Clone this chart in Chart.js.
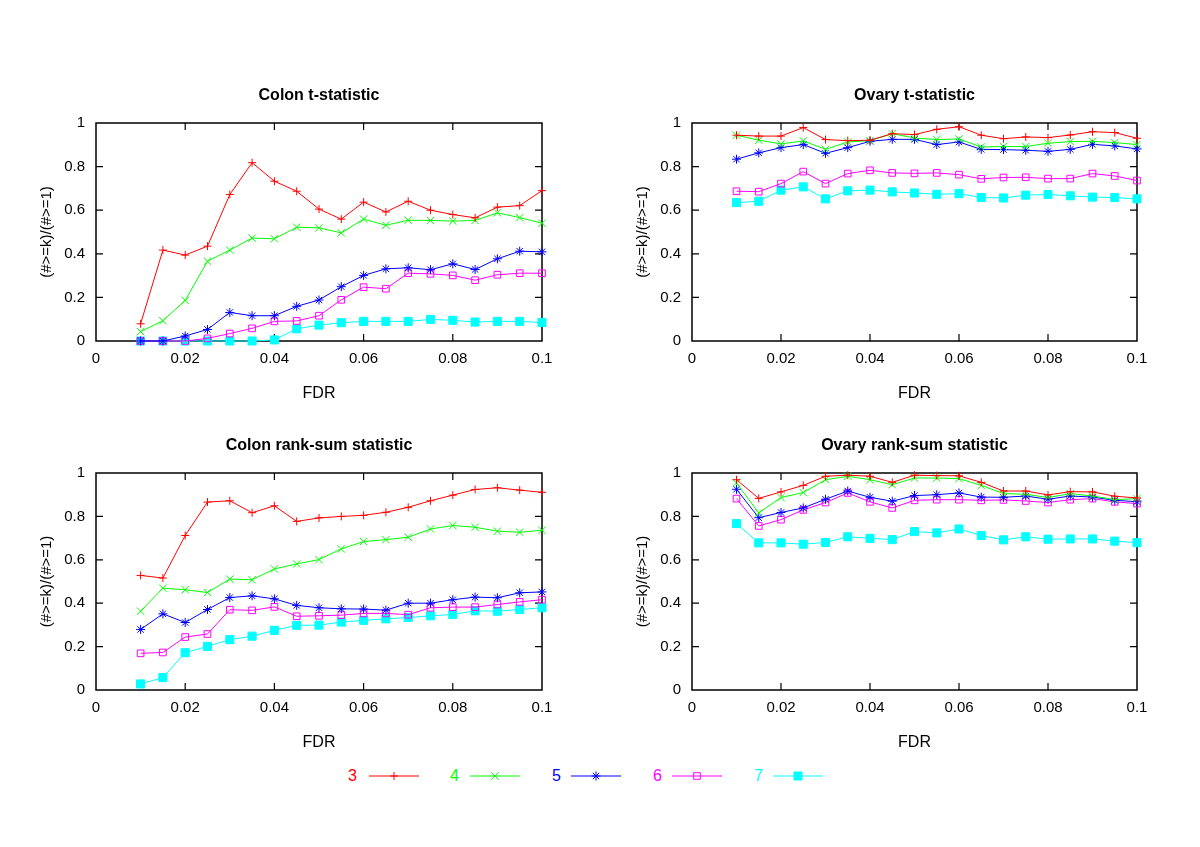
<!DOCTYPE html>
<html><head><meta charset="utf-8">
<script src="https://cdn.jsdelivr.net/npm/chart.js@4.4.1/dist/chart.umd.min.js"></script>
<style>
html,body{margin:0;padding:0;background:#fff;}
body{width:1200px;height:847px;position:relative;overflow:hidden;font-family:"Liberation Sans",Arial,Helvetica,sans-serif;}
canvas.pc{position:absolute;}
.lt{position:absolute;font-size:16px;line-height:16px;}
.ls{position:absolute;}
</style></head><body>
<canvas id="c1" class="pc" style="left:0px;top:60px" width="582" height="351"></canvas>
<canvas id="c2" class="pc" style="left:596px;top:60px" width="581" height="351"></canvas>
<canvas id="c3" class="pc" style="left:0px;top:410px" width="582" height="350"></canvas>
<canvas id="c4" class="pc" style="left:596px;top:410px" width="581" height="350"></canvas>
<div id="legend"></div>
<script>
// ---------- DATA ----------
const fdr = [0.01,0.015,0.02,0.025,0.03,0.035,0.04,0.045,0.05,0.055,0.06,0.065,0.07,0.075,0.08,0.085,0.09,0.095,0.1];
const seriesNames = ['3','4','5','6','7'];
const xTickLabels = ['0','0.02','0.04','0.06','0.08','0.1'];
const yTickLabels = ['0','0.2','0.4','0.6','0.8','1'];
const panelTitles = ['Colon t-statistic','Ovary t-statistic','Colon rank-sum statistic','Ovary rank-sum statistic'];

const colonT_3 = [0.079,0.417,0.394,0.435,0.672,0.818,0.733,0.687,0.605,0.559,0.637,0.592,0.641,0.600,0.580,0.565,0.614,0.621,0.690];
const colonT_4 = [0.043,0.093,0.186,0.366,0.417,0.472,0.469,0.522,0.519,0.496,0.559,0.531,0.554,0.553,0.550,0.553,0.588,0.566,0.540];
const colonT_5 = [0,0,0.023,0.053,0.131,0.116,0.116,0.159,0.188,0.249,0.301,0.331,0.336,0.327,0.354,0.328,0.377,0.412,0.409];
const colonT_6 = [0,0,0,0.012,0.034,0.058,0.090,0.092,0.116,0.189,0.247,0.240,0.311,0.308,0.301,0.279,0.304,0.311,0.311];
const colonT_7 = [0,0,0,0,0,0,0.005,0.056,0.073,0.084,0.090,0.090,0.090,0.099,0.095,0.087,0.090,0.090,0.085];

const ovaryT_3 = [0.944,0.940,0.940,0.979,0.924,0.919,0.921,0.951,0.947,0.971,0.983,0.944,0.928,0.936,0.933,0.945,0.960,0.956,0.930];
const ovaryT_4 = [0.944,0.921,0.904,0.918,0.879,0.913,0.919,0.951,0.931,0.924,0.927,0.890,0.892,0.892,0.907,0.915,0.916,0.910,0.901];
const ovaryT_5 = [0.834,0.863,0.887,0.901,0.861,0.887,0.916,0.925,0.925,0.901,0.913,0.879,0.878,0.875,0.870,0.879,0.902,0.895,0.881];
const ovaryT_6 = [0.687,0.685,0.722,0.777,0.722,0.768,0.783,0.771,0.769,0.771,0.763,0.744,0.750,0.751,0.745,0.745,0.768,0.757,0.736];
const ovaryT_7 = [0.635,0.641,0.692,0.707,0.652,0.689,0.692,0.684,0.679,0.673,0.676,0.658,0.656,0.669,0.672,0.666,0.660,0.658,0.652];

const colonR_3 = [0.528,0.516,0.712,0.866,0.872,0.817,0.849,0.777,0.793,0.800,0.805,0.819,0.842,0.872,0.898,0.924,0.932,0.921,0.911];
const colonR_4 = [0.363,0.469,0.462,0.449,0.511,0.508,0.558,0.581,0.601,0.650,0.684,0.693,0.704,0.742,0.758,0.750,0.732,0.727,0.736];
const colonR_5 = [0.279,0.351,0.311,0.371,0.426,0.434,0.420,0.390,0.379,0.374,0.373,0.368,0.400,0.400,0.416,0.428,0.425,0.448,0.452];
const colonR_6 = [0.169,0.173,0.244,0.258,0.370,0.367,0.383,0.340,0.342,0.345,0.353,0.353,0.347,0.379,0.382,0.382,0.394,0.406,0.416];
const colonR_7 = [0.028,0.057,0.172,0.201,0.232,0.248,0.275,0.298,0.299,0.313,0.321,0.328,0.334,0.342,0.348,0.365,0.363,0.371,0.379];

const ovaryR_3 = [0.969,0.883,0.913,0.943,0.985,0.990,0.985,0.957,0.990,0.988,0.987,0.957,0.917,0.917,0.899,0.914,0.913,0.893,0.885];
const ovaryR_4 = [0.954,0.816,0.887,0.910,0.969,0.985,0.969,0.946,0.977,0.977,0.974,0.943,0.905,0.902,0.887,0.905,0.894,0.877,0.882];
const ovaryR_5 = [0.925,0.794,0.818,0.839,0.879,0.917,0.888,0.870,0.896,0.900,0.908,0.889,0.888,0.894,0.879,0.894,0.889,0.874,0.868];
const ovaryR_6 = [0.882,0.756,0.785,0.830,0.864,0.908,0.867,0.839,0.874,0.877,0.877,0.874,0.876,0.871,0.864,0.877,0.882,0.867,0.859];
const ovaryR_7 = [0.767,0.678,0.678,0.672,0.680,0.706,0.699,0.693,0.730,0.724,0.742,0.712,0.692,0.706,0.695,0.696,0.696,0.686,0.679];

// ---------- STYLES ----------
const seriesColors = ['#ff0000','#00ff00','#0000ff','#ff00ff','#00ffff'];
const seriesPoint = ['cross','crossRot','star','rect','rect'];
const seriesRadius = [4,5.2,4.5,4.7,5.7];
const seriesFill = ['#ff0000','#00ff00','#0000ff','rgba(0,0,0,0)','#00ffff'];

Chart.defaults.font.family = '"Liberation Sans", Arial, Helvetica, sans-serif';
Chart.defaults.color = '#000';

const gnuFrame = {
  id: 'gnuFrame',
  beforeDatasetsDraw(chart) {
    const {ctx, chartArea: a} = chart;
    const xs = chart.scales.x, ys = chart.scales.y;
    ctx.save();
    ctx.strokeStyle = '#000';
    ctx.lineWidth = 1.5;
    ctx.strokeRect(a.left, a.top, a.right - a.left, a.bottom - a.top);
    ctx.lineWidth = 1.2;
    ctx.beginPath();
    const L = 7;
    xs.ticks.forEach(t => {
      const px = xs.getPixelForValue(t.value);
      if (px <= a.left + 1 || px >= a.right - 1) return;
      ctx.moveTo(px, a.bottom); ctx.lineTo(px, a.bottom - L);
      ctx.moveTo(px, a.top); ctx.lineTo(px, a.top + L);
    });
    ys.ticks.forEach(t => {
      const py = ys.getPixelForValue(t.value);
      if (py >= a.bottom - 1 || py <= a.top + 1) return;
      ctx.moveTo(a.left, py); ctx.lineTo(a.left + L, py);
      ctx.moveTo(a.right, py); ctx.lineTo(a.right - L, py);
    });
    ctx.stroke();
    ctx.restore();
  }
};

function makePanel(id, title, seriesList) {
  const datasets = seriesList.map((vals, k) => ({
    label: seriesNames[k],
    data: fdr.map((f, i) => ({x: f, y: vals[i]})),
    borderColor: seriesColors[k],
    backgroundColor: seriesFill[k],
    borderWidth: 1,
    pointStyle: seriesPoint[k],
    pointRadius: seriesRadius[k],
    pointBorderColor: seriesColors[k],
    pointBackgroundColor: seriesFill[k],
    pointBorderWidth: 1,
    tension: 0,
    clip: false
  }));
  return new Chart(document.getElementById(id), {
    type: 'line',
    data: {datasets},
    plugins: [gnuFrame],
    options: {
      responsive: false,
      animation: false,
      events: [],
      layout: {padding: {left: 0, right: 40, top: 0, bottom: 0}},
      plugins: {
        legend: {display: false},
        tooltip: {enabled: false},
        title: {display: true, text: title, fullSize: false, font: {size: 16, weight: 'bold'},
                padding: {top: 26, bottom: 17.8}, color: '#000'}
      },
      scales: {
        x: {
          type: 'linear', min: 0, max: 0.1,
          ticks: {stepSize: 0.02, padding: 9, font: {size: 15}, color: '#000', maxRotation: 0, autoSkip: false,
                  callback: (v, i) => xTickLabels[i]},
          grid: {display: false, drawTicks: false},
          border: {display: false},
          title: {display: true, text: 'FDR', font: {size: 16}, color: '#000', padding: {top: 0, bottom: 7.4}},
          afterFit(s) { s.height = 70; }
        },
        y: {
          type: 'linear', min: 0, max: 1,
          ticks: {stepSize: 0.2, padding: 11, font: {size: 15}, color: '#000',
                  callback: (v, i) => yTickLabels[i]},
          grid: {display: false, drawTicks: false},
          border: {display: false},
          title: {display: true, text: '(#>=k)/(#>=1)', font: {size: 15}, color: '#000', padding: {top: 38, bottom: 0}},
          afterFit(s) { s.width = 96; }
        }
      }
    }
  });
}

makePanel('c1', panelTitles[0], [colonT_3, colonT_4, colonT_5, colonT_6, colonT_7]);
makePanel('c2', panelTitles[1], [ovaryT_3, ovaryT_4, ovaryT_5, ovaryT_6, ovaryT_7]);
makePanel('c3', panelTitles[2], [colonR_3, colonR_4, colonR_5, colonR_6, colonR_7]);
makePanel('c4', panelTitles[3], [ovaryR_3, ovaryR_4, ovaryR_5, ovaryR_6, ovaryR_7]);

// ---------- LEGEND ----------
(function () {
  const lg = document.getElementById('legend');
  const textLeft = [348, 450, 552, 653, 754];
  const lineLeft = [369, 470, 571, 672, 773];
  const cy = 776;
  seriesNames.forEach((name, k) => {
    const s = document.createElement('span');
    s.className = 'lt';
    s.textContent = name;
    s.style.left = textLeft[k] + 'px';
    s.style.top = (cy - 8) + 'px';
    s.style.color = seriesColors[k];
    lg.appendChild(s);
    const c = document.createElement('canvas');
    c.className = 'ls';
    c.width = 52; c.height = 16;
    c.style.left = (lineLeft[k] - 1) + 'px';
    c.style.top = (cy - 8) + 'px';
    lg.appendChild(c);
    const ctx = c.getContext('2d');
    ctx.strokeStyle = seriesColors[k];
    ctx.lineWidth = 1;
    ctx.beginPath(); ctx.moveTo(1, 8); ctx.lineTo(51, 8); ctx.stroke();
    ctx.fillStyle = seriesFill[k];
    const opts = {pointStyle: seriesPoint[k], radius: seriesRadius[k], borderWidth: 1, rotation: 0};
    if (Chart.helpers && Chart.helpers.drawPoint) {
      Chart.helpers.drawPoint(ctx, opts, 26, 8);
    }
  });
})();
</script>
</body></html>
